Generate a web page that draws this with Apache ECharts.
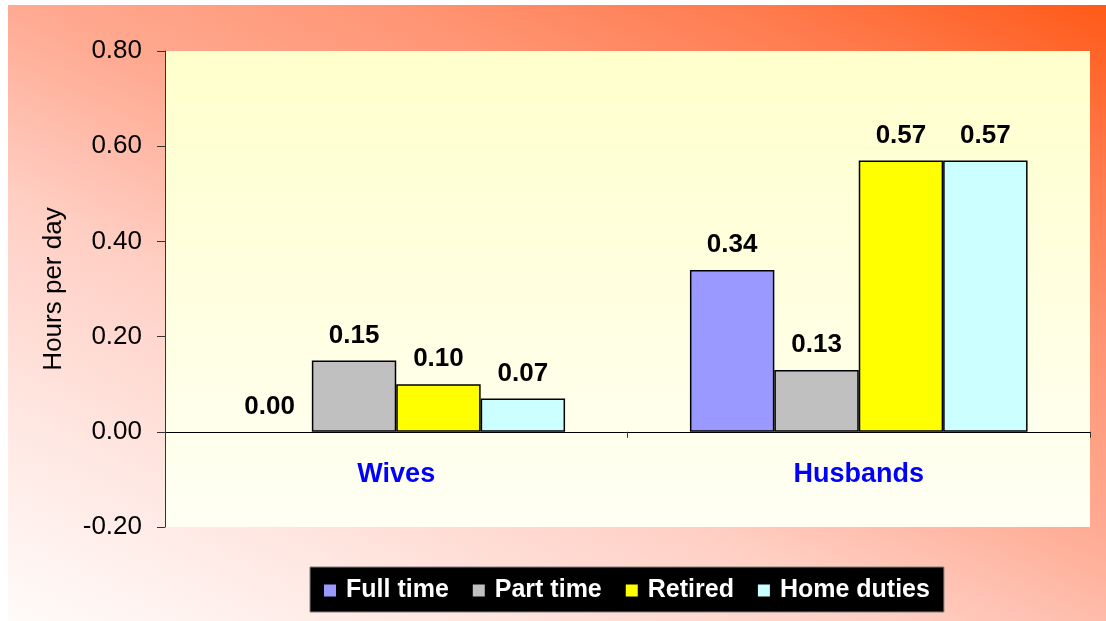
<!DOCTYPE html>
<html>
<head>
<meta charset="utf-8">
<script src="https://cdn.jsdelivr.net/npm/echarts@6/dist/echarts.min.js"></script>
<style>
  html, body { margin: 0; padding: 0; background: #ffffff; }
  #chart { position: absolute; left: 8px; top: 5px; width: 1098px; height: 616px; }
</style>
</head>
<body>
<div id="chart"></div>
<script>
// Hours per day spent, by employment status
const categories = ['Wives', 'Husbands'];
const seriesNames = ['Full time', 'Part time', 'Retired', 'Home duties'];
const fullTime = [0.00, 0.34];
const partTime = [0.15, 0.13];
const retired = [0.10, 0.57];
const homeDuties = [0.07, 0.57];
const yTicks = { min: -0.2, max: 0.8, interval: 0.2 };

const seriesValues = [fullTime, partTime, retired, homeDuties];
const seriesColors = ['#9999FF', '#C0C0C0', '#FFFF00', '#CCFFFF'];
const FONT = '"Liberation Sans", Arial, sans-serif';

const GRID = { left: 157, top: 46, width: 925, height: 476 };
// Shift the category axis up so it sits on the zero line, labels included
const zeroOffset = -GRID.height * (0 - yTicks.min) / (yTicks.max - yTicks.min);

const chart = echarts.init(document.getElementById('chart'), null, { renderer: 'canvas' });

chart.setOption({
  animation: false,
  backgroundColor: {
    type: 'linear', global: true,
    x: 0, y: 616, x2: 442, y2: -312,
    colorStops: [
      { offset: 0, color: '#FFFBF9' },
      { offset: 0.19, color: '#FFE6E1' },
      { offset: 0.37, color: '#FFCFC4' },
      { offset: 0.54, color: '#FFAA92' },
      { offset: 0.70, color: '#FF9574' },
      { offset: 0.85, color: '#FF7B4E' },
      { offset: 1, color: '#FF5A18' }
    ]
  },
  textStyle: { fontFamily: FONT },
  grid: {
    left: GRID.left, top: GRID.top, width: GRID.width, height: GRID.height,
    show: true, borderWidth: 0,
    backgroundColor: {
      type: 'linear', x: 0, y: 0, x2: 0, y2: 1,
      colorStops: [
        { offset: 0, color: '#FFFFCC' },
        { offset: 1, color: '#FFFFF4' }
      ]
    }
  },
  legend: {
    data: seriesNames,
    left: 302, top: 562,
    backgroundColor: '#000000',
    borderColor: '#808080', borderWidth: 1,
    padding: [11, 14, 9, 12],
    itemWidth: 14, itemHeight: 14, itemGap: 22,
    icon: 'rect',
    textStyle: { color: '#FFFFFF', fontWeight: 'bold', fontSize: 25, fontFamily: FONT, padding: [0, 0, 0, 4] }
  },
  xAxis: {
    type: 'category',
    data: categories,
    offset: zeroOffset,
    axisLine: { show: true, onZero: false, lineStyle: { color: '#000000', width: 1 } },
    axisTick: { show: true, alignWithLabel: false, length: 6, inside: false, lineStyle: { color: '#333333' } },
    axisLabel: { color: '#0000FF', fontWeight: 'bold', fontSize: 27, margin: 29, fontFamily: FONT },
    splitLine: { show: false }
  },
  yAxis: {
    type: 'value',
    min: yTicks.min, max: yTicks.max, interval: yTicks.interval,
    name: 'Hours per day',
    nameLocation: 'middle',
    nameGap: 98,
    nameRotate: 90,
    nameTextStyle: { color: '#000000', fontSize: 26, fontFamily: FONT },
    axisLine: { show: true, lineStyle: { color: '#333333', width: 1 } },
    axisTick: { show: true, length: 8, lineStyle: { color: '#333333' } },
    axisLabel: {
      color: '#000000', fontSize: 26, margin: 23, fontFamily: FONT,
      formatter: v => v.toFixed(2)
    },
    splitLine: { show: false }
  },
  series: seriesNames.map((name, i) => ({
    name,
    type: 'bar',
    // zero-height bars keep their value label but draw no outline
    data: seriesValues[i].map(v => v === 0 ? { value: v, itemStyle: { borderWidth: 0 } } : v),
    barGap: '0%',
    barCategoryGap: '27%',
    itemStyle: { color: seriesColors[i], borderColor: '#000000', borderWidth: 1.5 },
    label: {
      show: true, position: 'top', distance: 12,
      color: '#000000', fontWeight: 'bold', fontSize: 26, fontFamily: FONT,
      formatter: p => p.value.toFixed(2)
    }
  }))
});
</script>
</body>
</html>
